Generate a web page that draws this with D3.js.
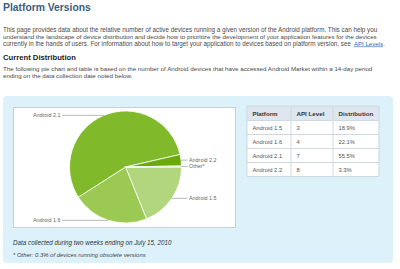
<!DOCTYPE html>
<html>
<head>
  <script src="https://d3js.org/d3.v7.min.js"></script>
</head>
<body style="margin:0px; overflow:hidden; background:#fff;">
  <svg id="page" width="400" height="269"></svg>
  <script>
    // Data
    const platforms = ["Android 1.5", "Android 1.6", "Android 2.1", "Android 2.2"];
    const apiLevels = [3, 4, 7, 8];
    const distribution = [18.9, 22.1, 55.5, 3.3];
    const otherLabel = "Other*";
    const otherShare = 0.3;
    const sliceColors = ["#b2d67e", "#9cc854", "#80b929", "#6aaa0a", "#cfe6ad"];
    const headers = ["Platform", "API Level", "Distribution"];

    const intro = [
      "This page provides data about the relative number of active devices running a given version of the Android platform. This can help you",
      "understand the landscape of device distribution and decide how to prioritize the development of your application features for the devices",
      "currently in the hands of users. For information about how to target your application to devices based on platform version, see "
    ];
    const intro2 = [
      "The following pie chart and table is based on the number of Android devices that have accessed Android Market within a 14-day period",
      "ending on the data collection date noted below."
    ];

    const svg = d3.select("#page");
    const font = "Liberation Sans, Arial, sans-serif";

    // scale font so text spans a given width
    function fit(t, w) {
      const len = t.node().getComputedTextLength();
      const fs = parseFloat(t.attr("font-size"));
      t.attr("font-size", fs * w / len);
      return t;
    }

    // Header text
    fit(svg.append("text").attr("x", 3).attr("y", 10.5)
      .attr("font-family", font).attr("font-weight", "bold").attr("font-size", 10)
      .attr("fill", "#3b5d7e").text("Platform Versions"), 88);

    const introW = [375, 374, 349];
    intro.forEach(function (s, i) {
      fit(svg.append("text").attr("x", 3).attr("y", 31.5 + i * 7)
        .attr("font-family", font).attr("font-size", 6).attr("fill", "#4a4a4a").text(s), introW[i]);
    });
    const link = svg.append("text").attr("x", 354).attr("y", 45.5)
      .attr("font-family", font).attr("font-size", 5.7).attr("fill", "#2a6fb5")
      .attr("text-decoration", "underline").text("API Levels");
    fit(link, 29);
    svg.append("text").attr("x", 383.5).attr("y", 45.5)
      .attr("font-family", font).attr("font-size", 5.7).attr("fill", "#4a4a4a").text(".");

    fit(svg.append("text").attr("x", 3).attr("y", 60)
      .attr("font-family", font).attr("font-weight", "bold").attr("font-size", 8)
      .attr("fill", "#222").text("Current Distribution"), 73);

    const intro2W = [370, 150];
    let fs2 = 6;
    intro2.forEach(function (s, i) {
      const t = svg.append("text").attr("x", 3).attr("y", 71 + i * 6.7)
        .attr("font-family", font).attr("font-size", fs2).attr("fill", "#4a4a4a").text(s);
      if (i === 0) { fit(t, intro2W[0]); fs2 = t.attr("font-size"); }
    });

    // Blue panel and white chart box
    svg.append("rect").attr("x", 3).attr("y", 96).attr("width", 390).attr("height", 167)
      .attr("rx", 4).attr("fill", "#ddf1fa");
    svg.append("rect").attr("x", 13.5).attr("y", 107.5).attr("width", 222).attr("height", 120)
      .attr("fill", "#fff").attr("stroke", "#c8d0d4");

    // Pie
    const cx = 125.5, cy = 167, r = 56;
    const values = distribution.concat([otherShare]);
    const labels = platforms.concat([otherLabel]);
    const pie = d3.pie().sort(null).startAngle(Math.PI / 2).endAngle(Math.PI / 2 + 2 * Math.PI);
    const arcs = pie(values);
    const arc = d3.arc().innerRadius(0).outerRadius(r);
    const g = svg.append("g").attr("transform", "translate(" + cx + "," + cy + ")");
    g.selectAll("path").data(arcs).enter().append("path")
      .attr("d", arc)
      .attr("fill", function (d, i) { return sliceColors[i]; })
      .attr("stroke", "#fff").attr("stroke-width", 0.8);

    // Labels with horizontal leader lines
    arcs.forEach(function (d, i) {
      const mid = (d.startAngle + d.endAngle) / 2;
      const ly = r * -Math.cos(mid);
      const right = Math.sin(mid) > 0;
      const ex = Math.sqrt(Math.max(r * r - ly * ly, 0)) * (right ? 1 : -1);
      const lx = right ? r + 6 : -r - 7.5;
      g.append("line").attr("x1", ex).attr("y1", ly).attr("x2", lx).attr("y2", ly)
        .attr("stroke", "#999").attr("stroke-width", 0.7);
      g.append("text").attr("x", right ? lx + 1.5 : lx - 1.5).attr("y", ly + 1.9)
        .attr("text-anchor", right ? "start" : "end")
        .attr("font-family", font).attr("font-size", 5.4).attr("fill", "#666")
        .text(labels[i]);
    });

    // Captions
    fit(svg.append("text").attr("x", 13).attr("y", 244.5)
      .attr("font-family", font).attr("font-style", "italic").attr("font-size", 6).attr("fill", "#333")
      .text("Data collected during two weeks ending on July 15, 2010"), 159);
    fit(svg.append("text").attr("x", 13).attr("y", 257)
      .attr("font-family", font).attr("font-style", "italic").attr("font-size", 5).attr("fill", "#444")
      .text("* Other: 0.3% of devices running obsolete versions"), 133);

    // Table
    const colX = [247, 291, 333, 379];
    const rowY = [106, 120.5, 134.5, 148.5, 162.5, 176.5];
    const rows = platforms.map(function (p, i) { return [p, apiLevels[i], distribution[i] + "%"]; });
    const tg = svg.append("g");
    tg.append("rect").attr("x", colX[0]).attr("y", rowY[0]).attr("width", colX[3] - colX[0])
      .attr("height", rowY[5] - rowY[0]).attr("fill", "#fff");
    tg.append("rect").attr("x", colX[0]).attr("y", rowY[0]).attr("width", colX[3] - colX[0])
      .attr("height", rowY[1] - rowY[0]).attr("fill", "#dee7ef");
    rowY.forEach(function (y) {
      tg.append("line").attr("x1", colX[0]).attr("x2", colX[3]).attr("y1", y).attr("y2", y)
        .attr("stroke", "#cfd8df").attr("stroke-width", 1);
    });
    colX.forEach(function (x) {
      tg.append("line").attr("x1", x).attr("x2", x).attr("y1", rowY[0]).attr("y2", rowY[5])
        .attr("stroke", "#cfd8df").attr("stroke-width", 1);
    });
    headers.forEach(function (h, j) {
      tg.append("text").attr("x", colX[j] + 5.5).attr("y", rowY[0] + 9.5)
        .attr("font-family", font).attr("font-weight", "bold").attr("font-size", 6.2)
        .attr("fill", "#333").text(h);
    });
    rows.forEach(function (row, i) {
      row.forEach(function (v, j) {
        tg.append("text").attr("x", colX[j] + 5.5).attr("y", rowY[i + 1] + 9)
          .attr("font-family", font).attr("font-size", 5.8)
          .attr("fill", "#555").text(v);
      });
    });
  </script>
</body>
</html>
